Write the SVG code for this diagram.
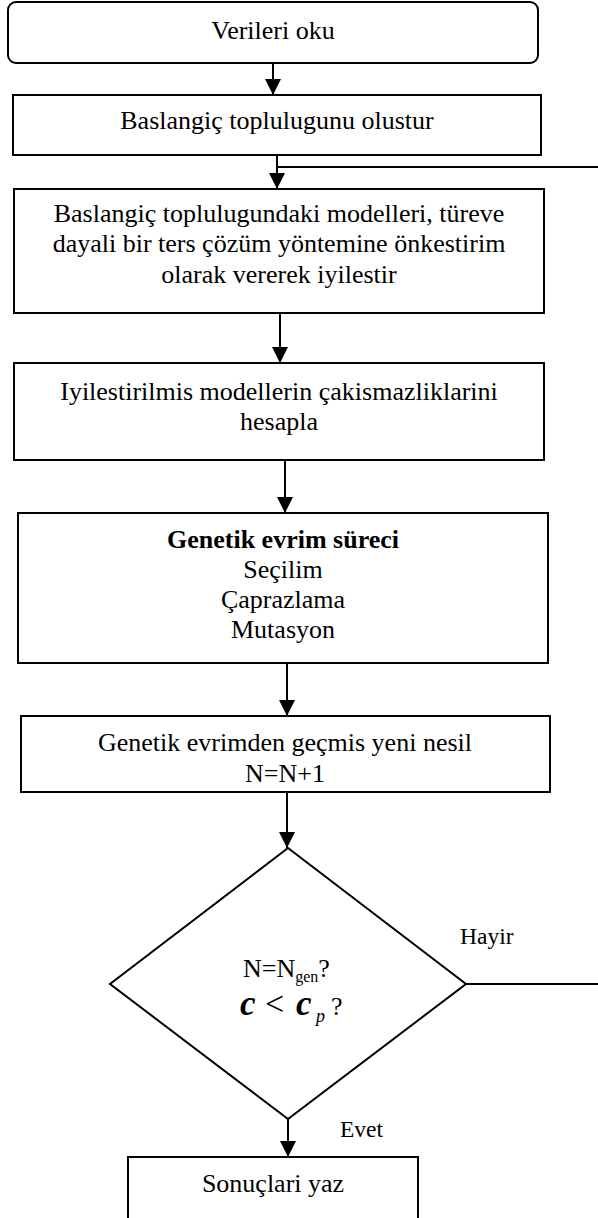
<svg xmlns="http://www.w3.org/2000/svg" width="598" height="1218" viewBox="0 0 598 1218">
<defs>
<style>
.box{fill:#fff;stroke:#000;stroke-width:2}
.ln{fill:none;stroke:#000;stroke-width:2}
.t{font-family:"Liberation Serif","Times New Roman",serif;font-size:26px;fill:#000;text-anchor:middle}
.s{text-anchor:start}
.b{font-weight:bold}
.bi{font-weight:bold;font-style:italic;font-size:35px}
.lbl{font-family:"Liberation Serif","Times New Roman",serif;font-size:23.5px;fill:#000}
</style>
<marker id="ah" viewBox="0 0 16 16" refX="16" refY="8" markerWidth="16" markerHeight="16" markerUnits="userSpaceOnUse" orient="auto">
<path d="M0,0 L16,8 L0,16 Z" fill="#000"/>
</marker>
</defs>
<rect width="598" height="1218" fill="#fff"/>
<g id="connectors">
<line class="ln" x1="273" y1="63" x2="273" y2="95" marker-end="url(#ah)"/>
<line class="ln" x1="277" y1="155" x2="277" y2="189" marker-end="url(#ah)"/>
<line class="ln" x1="277" y1="167" x2="598" y2="167"/>
<line class="ln" x1="280" y1="313" x2="280" y2="363" marker-end="url(#ah)"/>
<line class="ln" x1="285" y1="460" x2="285" y2="513" marker-end="url(#ah)"/>
<line class="ln" x1="287" y1="663" x2="287" y2="716" marker-end="url(#ah)"/>
<line class="ln" x1="287" y1="792" x2="287" y2="848" marker-end="url(#ah)"/>
<line class="ln" x1="466" y1="984" x2="598" y2="984"/>
<line class="ln" x1="288" y1="1119" x2="288" y2="1157" marker-end="url(#ah)"/>
<text class="lbl" x="460" y="944">Hayir</text>
<text class="lbl" x="340" y="1137">Evet</text>
</g>
<g id="n1">
<rect class="box" x="8" y="2" width="530" height="61" rx="8"/>
<text class="t" x="273" y="39">Verileri oku</text>
</g>
<g id="n2">
<rect class="box" x="13" y="95" width="528" height="60"/>
<text class="t" x="277" y="129">Baslangiç toplulugunu olustur</text>
</g>
<g id="n3">
<rect class="box" x="14" y="189" width="530" height="124"/>
<text class="t" x="279" y="222">Baslangiç toplulugundaki modelleri, türeve</text>
<text class="t" x="279" y="252">dayali bir ters çözüm yöntemine önkestirim</text>
<text class="t" x="279" y="283">olarak vererek iyilestir</text>
</g>
<g id="n4">
<rect class="box" x="14" y="363" width="530" height="97"/>
<text class="t" x="279" y="400">Iyilestirilmis modellerin çakismazliklarini</text>
<text class="t" x="279" y="430">hesapla</text>
</g>
<g id="n5">
<rect class="box" x="18" y="513" width="530" height="150"/>
<text class="t b" x="283" y="548">Genetik evrim süreci</text>
<text class="t" x="283" y="578">Seçilim</text>
<text class="t" x="283" y="608">Çaprazlama</text>
<text class="t" x="283" y="638">Mutasyon</text>
</g>
<g id="n6">
<rect class="box" x="21" y="716" width="529" height="76"/>
<text class="t" x="285" y="751">Genetik evrimden geçmis yeni nesil</text>
<text class="t" x="285" y="782">N=N+1</text>
</g>
<g id="n7">
<polygon class="box" points="288,848 466,984 288,1119 110,984"/>
<text class="t s" x="243" y="977">N=N<tspan font-size="16" dy="5">gen</tspan><tspan dy="-5">?</tspan></text>
<text class="t s" y="1015"><tspan class="bi" x="240">c</tspan><tspan font-size="34" x="265">&lt;</tspan><tspan class="bi" x="296">c</tspan><tspan font-style="italic" font-size="18" x="316" dy="7">p</tspan><tspan x="331" dy="-7">?</tspan></text>
</g>
<g id="n8">
<rect class="box" x="128" y="1157" width="290" height="80"/>
<text class="t" x="273" y="1192">Sonuçlari yaz</text>
</g>
</svg>
